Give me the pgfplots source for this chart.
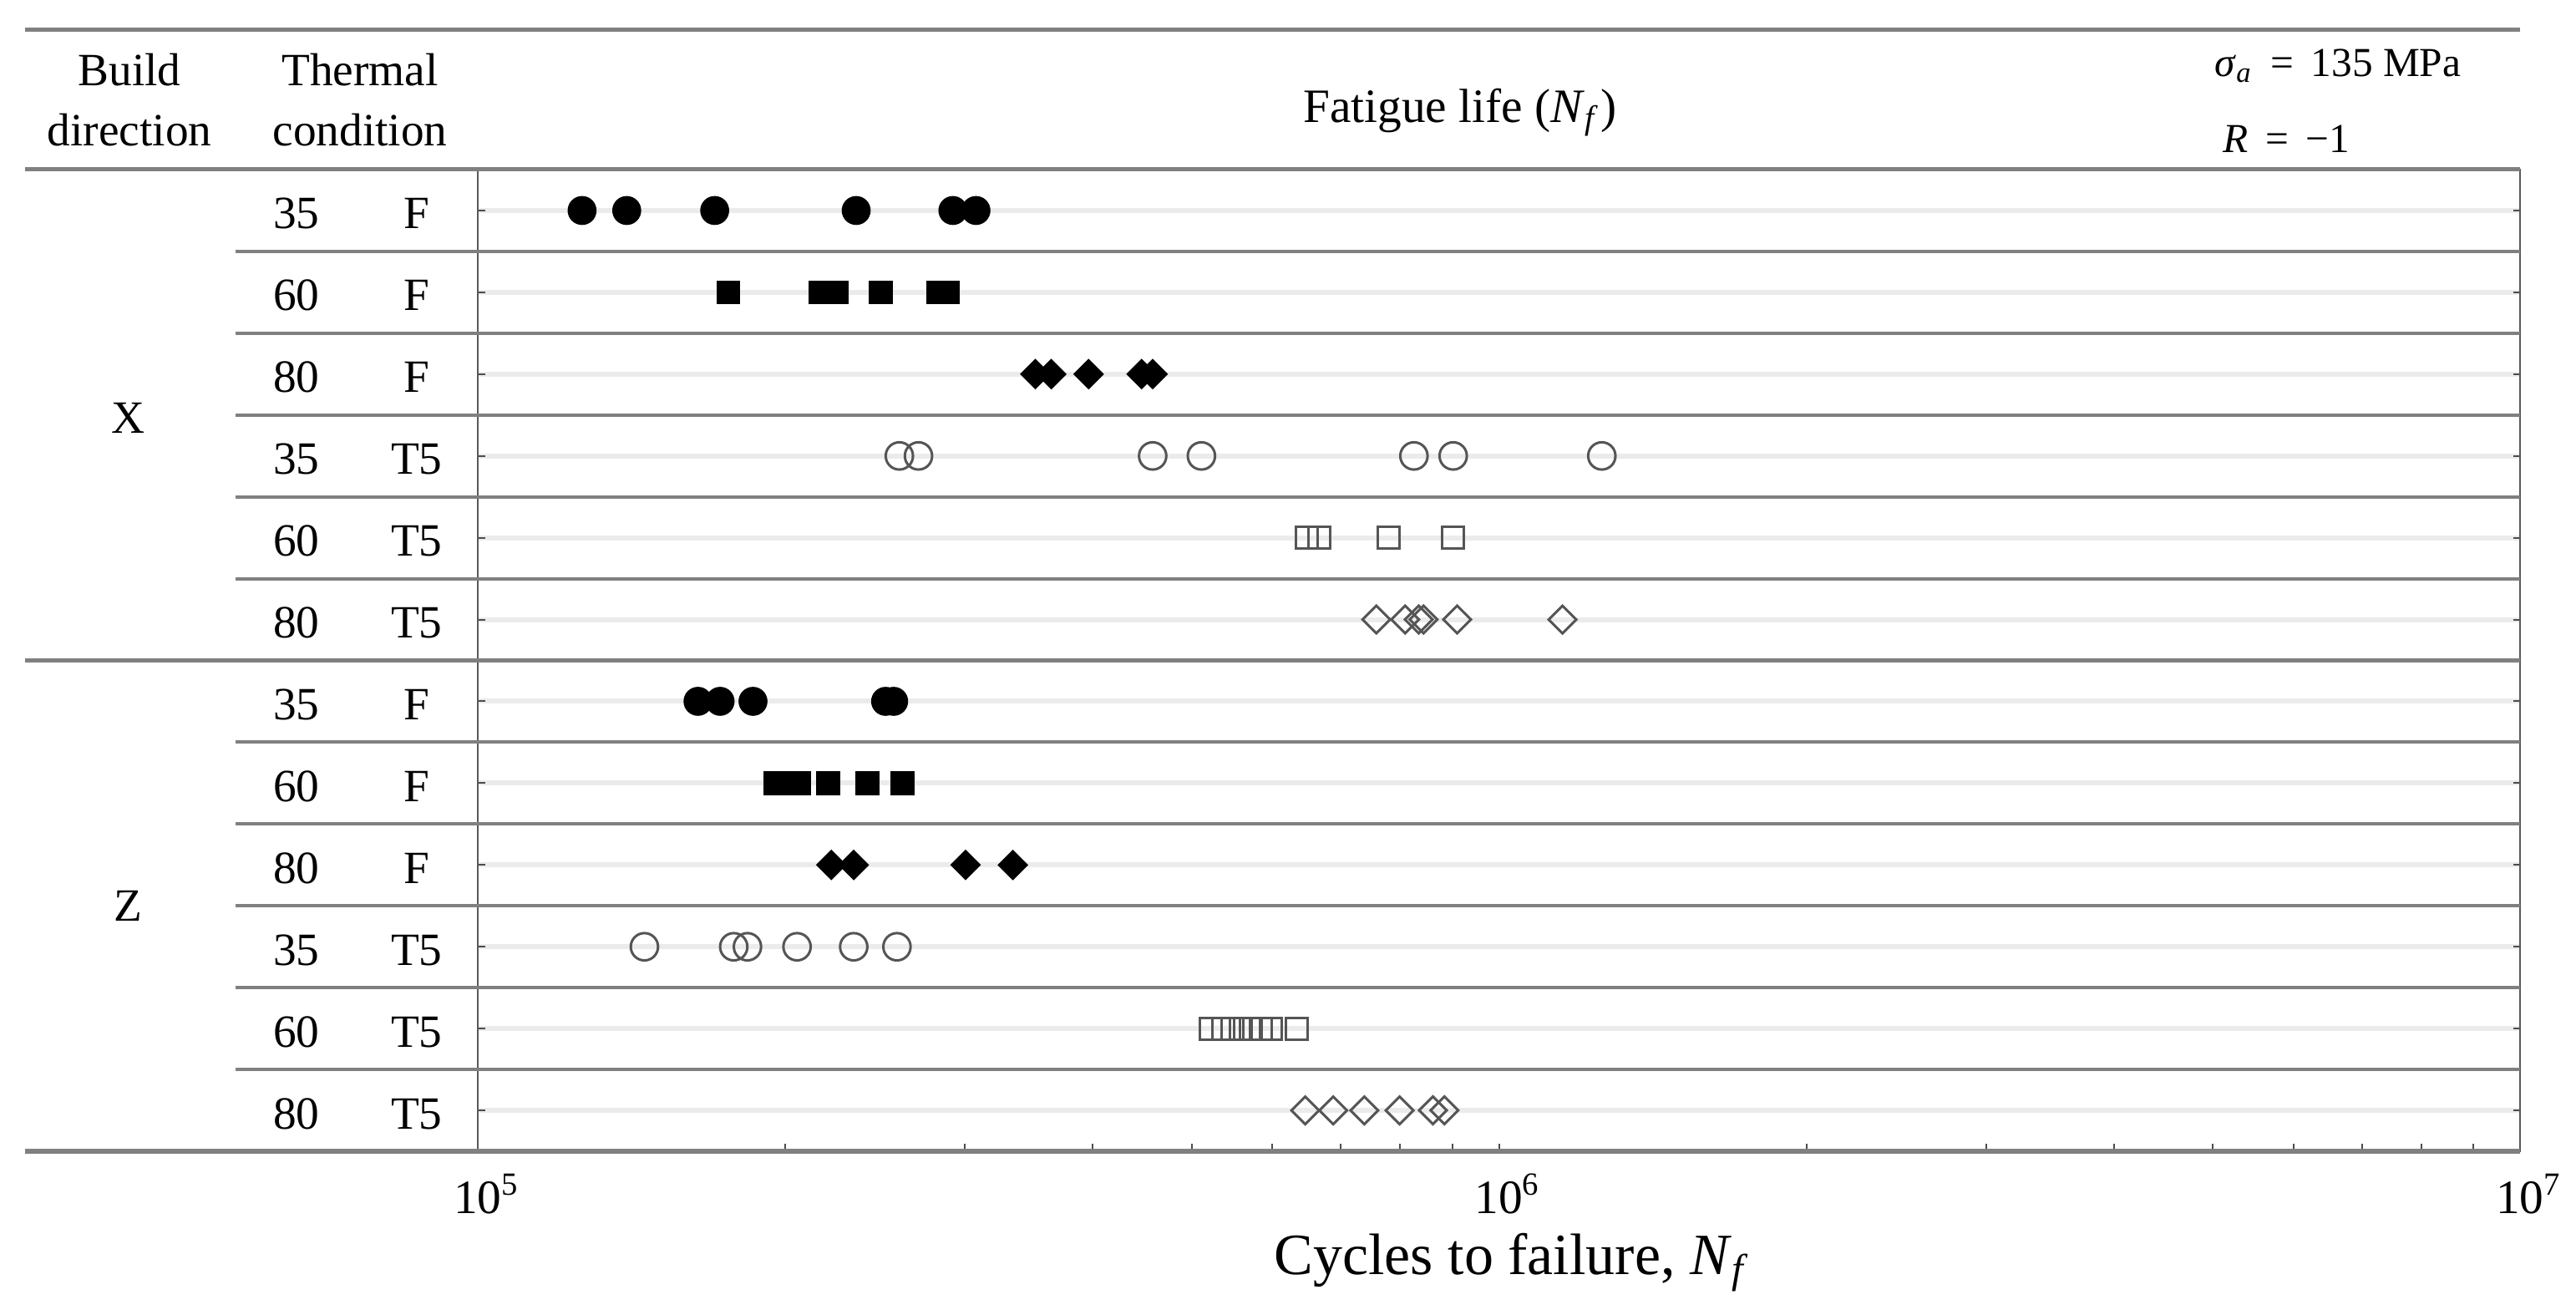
\documentclass[border=0pt]{standalone}
\usepackage{pgfplots}
\pgfplotsset{compat=1.18}
\usepackage{fontspec}
\setmainfont{Liberation Serif}
\definecolor{sepgray}{HTML}{808080}
\definecolor{gridgray}{HTML}{EBEBEB}
\definecolor{mkgray}{HTML}{555555}
\newcommand{\rl}[2]{\makebox[21.6pt]{#1}\makebox[21.6pt]{#2}}
\newcommand{\tf}{\fontsize{8.3}{10}\selectfont}
\newcommand{\sups}[1]{\raisebox{3.3pt}{\fontsize{5.8}{6}\selectfont #1}}
\begin{document}
\begin{tikzpicture}
\begin{axis}[
  at={(0,0)}, anchor=south west,
  scale only axis, width=366.75pt, height=176.25pt,
  xmode=log, xmin=1e5, xmax=1e7,
  ymin=0.5, ymax=12.5, y dir=reverse,
  xtick={1e5,1e6,1e7},
  xticklabels={10\sups{5},10\sups{6},10\sups{7}},
  xtick pos=bottom,
  xticklabel style={anchor=base, yshift=-11.1pt, xshift=1.4pt, font=\fontsize{8.6}{10}\selectfont},
  ytick={1,...,12},
  yticklabels={\rl{35}{F},\rl{60}{F},\rl{80}{F},\rl{35}{T5},\rl{60}{T5},\rl{80}{T5},\rl{35}{F},\rl{60}{F},\rl{80}{F},\rl{35}{T5},\rl{60}{T5},\rl{80}{T5}},
  yticklabel style={anchor=base east, inner sep=0pt, yshift=-3.3pt, font=\tf},
  major tick length=1.3pt, minor tick length=1.3pt,
  tick style={black!70, line width=0.3pt},
  ymajorgrids, grid style={gridgray, line width=0.9pt},
  axis line style={black!65, line width=0.35pt},
  clip=false,
]
% filled circles: X 35 F (row 1), Z 35 F (row 7)
\addplot[only marks, mark=*, mark size=2.4pt, black] coordinates {
(1.265e5,1) (1.399e5,1) (1.706e5,1) (2.347e5,1) (2.919e5,1) (3.075e5,1)
(1.643e5,7) (1.727e5,7) (1.860e5,7) (2.508e5,7) (2.554e5,7)
};
% filled squares: X 60 F (row 2), Z 60 F (row 8)
\addplot[only marks, mark=square*, mark size=1.95pt, black] coordinates {
(1.760e5,2) (2.164e5,2) (2.247e5,2) (2.481e5,2) (2.826e5,2) (2.887e5,2)
(1.956e5,8) (2.062e5,8) (2.203e5,8) (2.407e5,8) (2.605e5,8)
};
% filled diamonds: X 80 F (row 3), Z 80 F (row 9)
\addplot[only marks, mark=square*, mark size=1.75pt, mark options={rotate=45}, black] coordinates {
(3.515e5,3) (3.644e5,3) (3.965e5,3) (4.467e5,3) (4.580e5,3)
(2.219e5,9) (2.334e5,9) (3.004e5,9) (3.342e5,9)
};
% open circles: X 35 T5 (row 4), Z 35 T5 (row 10)
\addplot[only marks, mark=o, mark size=2.45pt, mkgray, mark options={line width=0.45pt}] coordinates {
(2.587e5,4) (2.701e5,4) (4.580e5,4) (5.112e5,4) (8.255e5,4) (9.019e5,4) (1.261e6,4)
(1.456e5,10) (1.781e5,10) (1.837e5,10) (2.054e5,10) (2.334e5,10) (2.573e5,10)
};
% open squares: X 60 T5 (row 5), Z 60 T5 (row 11)
\addplot[only marks, mark=square, mark size=1.95pt, mkgray, mark options={line width=0.45pt}] coordinates {
(6.485e5,5) (6.674e5,5) (7.793e5,5) (9.019e5,5)
(5.224e5,11) (5.366e5,11) (5.483e5,11) (5.592e5,11) (5.713e5,11) (5.849e5,11) (5.977e5,11) (6.334e5,11)
};
% open diamonds: X 80 T5 (row 6), Z 80 T5 (row 12)
\addplot[only marks, mark=square, mark size=1.75pt, mkgray, mark options={rotate=45, line width=0.45pt}] coordinates {
(7.585e5,6) (8.093e5,6) (8.345e5,6) (8.436e5,6) (9.100e5,6) (1.154e6,6)
(6.461e5,12) (6.882e5,12) (7.382e5,12) (7.993e5,12) (8.617e5,12) (8.842e5,12)
};
\end{axis}
% table rules
\draw[sepgray, line width=0.75pt] (-81.3pt,201.3pt) -- (366.75pt,201.3pt);
\draw[sepgray, line width=0.75pt] (-81.3pt,176.25pt) -- (366.75pt,176.25pt);
\draw[sepgray, line width=0.75pt] (-81.3pt,0pt) -- (366.75pt,0pt);
\draw[sepgray, line width=0.65pt] (-81.3pt,88.125pt) -- (366.75pt,88.125pt);
\foreach \i in {1,2,3,4,5,7,8,9,10,11}
  \draw[sepgray, line width=0.6pt] (-43.5pt,{176.25pt-14.6875pt*\i}) -- (366.75pt,{176.25pt-14.6875pt*\i});
% header texts
\node[font=\tf, anchor=base, inner sep=0pt] at (-62.55pt,191.25pt) {Build};
\node[font=\tf, anchor=base, inner sep=0pt] at (-62.55pt,180.45pt) {direction};
\node[font=\tf, anchor=base, inner sep=0pt] at (-21.15pt,191.25pt) {Thermal};
\node[font=\tf, anchor=base, inner sep=0pt] at (-21.15pt,180.45pt) {condition};
\node[font=\fontsize{8.6}{10}\selectfont, anchor=base, inner sep=0pt] at (176.4pt,184.65pt) {Fatigue life (\textit{N}\textsubscript{\textit{f}})};
\node[font=\fontsize{7.4}{9}\selectfont, anchor=base west, inner sep=0pt] at (311.7pt,192.9pt) {\textit{σ}\textsubscript{\textit{a}}\ \,=\ \,135 MPa};
\node[font=\fontsize{7.4}{9}\selectfont, anchor=base west, inner sep=0pt] at (313.2pt,179.25pt) {\textit{R}\ \,=\ \,−1};
% group labels
\node[font=\tf, anchor=base, inner sep=0pt] at (-62.85pt,128.85pt) {X};
\node[font=\tf, anchor=base, inner sep=0pt] at (-62.85pt,41.25pt) {Z};
% x label
\node[font=\fontsize{10.5}{12}\selectfont, anchor=base, inner sep=0pt] at (185.8pt,-22.05pt) {Cycles to failure, \textit{N}\textsubscript{\textit{f}}};
\pgfresetboundingbox
\path[use as bounding box] (-85.8pt,-28.5pt) rectangle (376.8pt,206.7pt);
\end{tikzpicture}
\end{document}
